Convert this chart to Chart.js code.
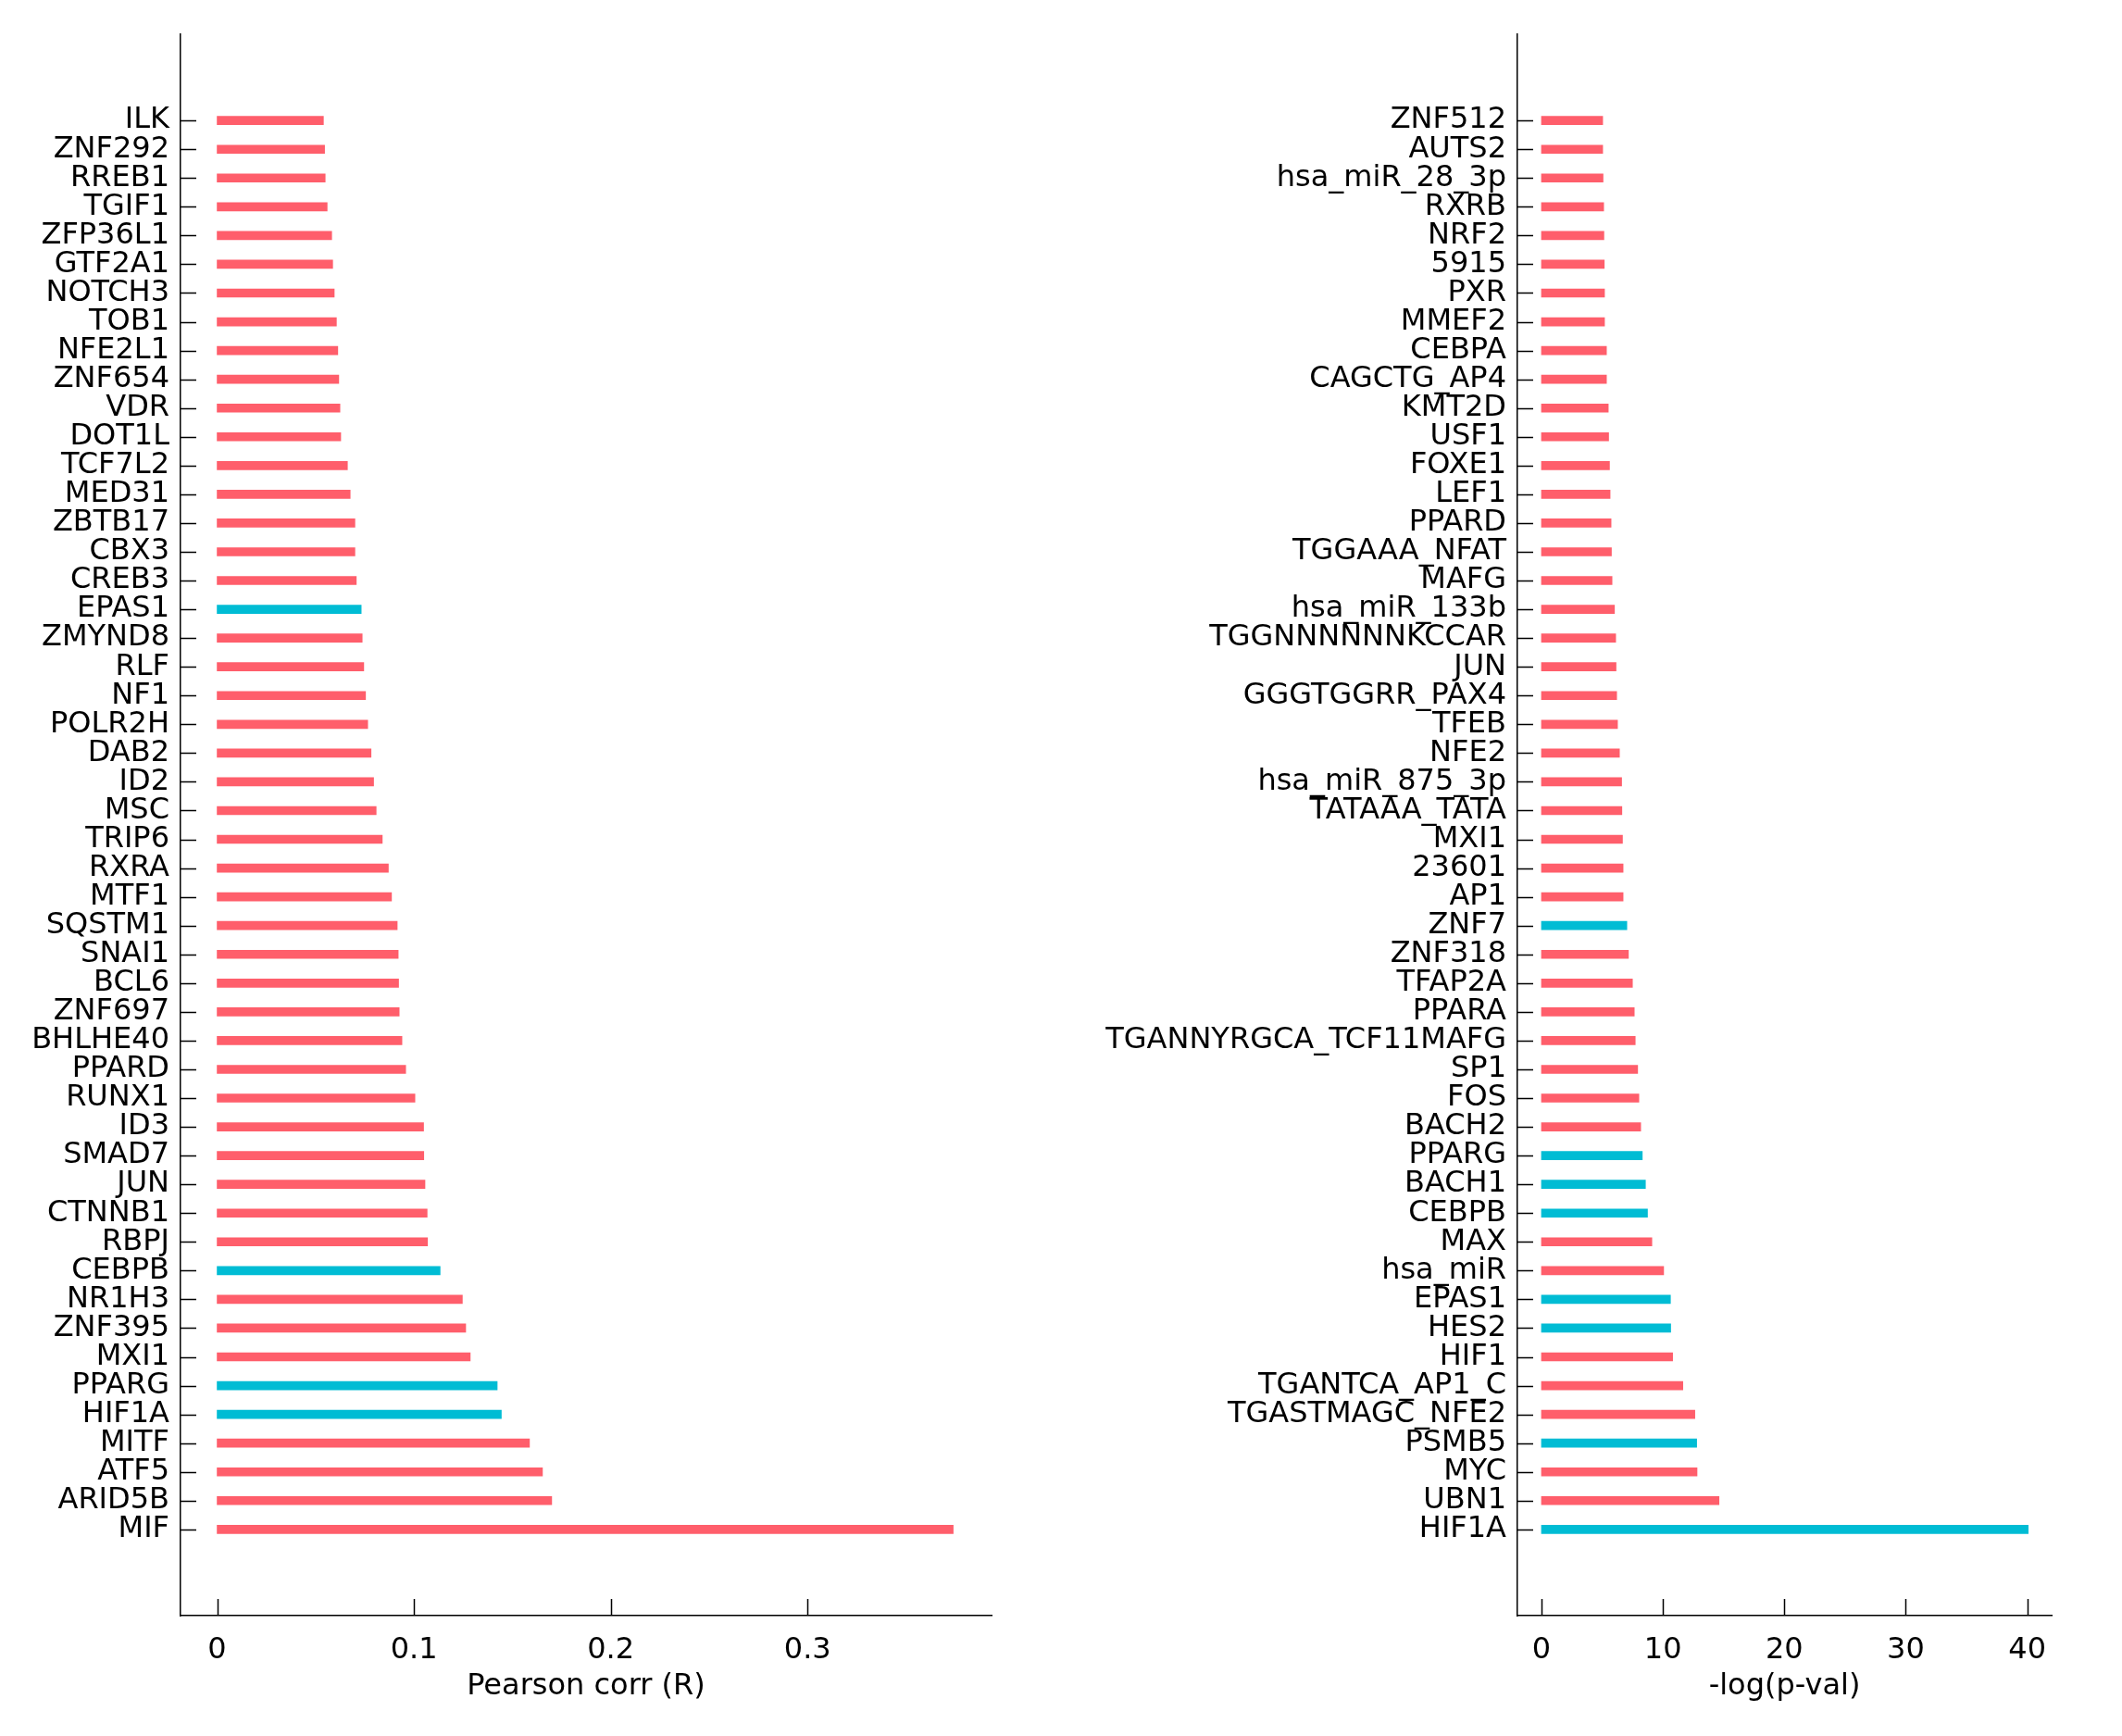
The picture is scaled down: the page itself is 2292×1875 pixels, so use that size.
<!DOCTYPE html>
<html lang="en">
<head>
  <meta charset="UTF-8" />
  <title>Correlation and enrichment bars</title>
  <script src="https://cdn.jsdelivr.net/npm/chart.js"></script>
  <style>
    body {
      margin: 0;
      padding: 0;
      background: #fff;
      width: 2292px;
      height: 1875px;
      position: relative;
      overflow: hidden;
    }
    canvas {
      position: absolute;
      top: 0;
    }
    #corrChart { left: 0; }
    #pvalChart { left: 1100px; }
  </style>
</head>
<body>
  <canvas id="corrChart" width="1100" height="1875"></canvas>
  <canvas id="pvalChart" width="1192" height="1875"></canvas>
  <script>
    // left panel: Pearson correlation, top to bottom
    const corrNames = ['ILK', 'ZNF292', 'RREB1', 'TGIF1', 'ZFP36L1', 'GTF2A1', 'NOTCH3', 'TOB1', 'NFE2L1', 'ZNF654',
      'VDR', 'DOT1L', 'TCF7L2', 'MED31', 'ZBTB17', 'CBX3', 'CREB3', 'EPAS1', 'ZMYND8', 'RLF',
      'NF1', 'POLR2H', 'DAB2', 'ID2', 'MSC', 'TRIP6', 'RXRA', 'MTF1', 'SQSTM1', 'SNAI1',
      'BCL6', 'ZNF697', 'BHLHE40', 'PPARD', 'RUNX1', 'ID3', 'SMAD7', 'JUN', 'CTNNB1', 'RBPJ',
      'CEBPB', 'NR1H3', 'ZNF395', 'MXI1', 'PPARG', 'HIF1A', 'MITF', 'ATF5', 'ARID5B', 'MIF'];
    const corrValues = [0.0540, 0.0546, 0.0549, 0.0559, 0.0582, 0.0587, 0.0595, 0.0606, 0.0613, 0.0618,
      0.0624, 0.0628, 0.0662, 0.0676, 0.0700, 0.0700, 0.0707, 0.0732, 0.0737, 0.0745,
      0.0754, 0.0765, 0.0782, 0.0795, 0.0808, 0.0839, 0.0870, 0.0886, 0.0915, 0.0920,
      0.0922, 0.0925, 0.0939, 0.0958, 0.1005, 0.1049, 0.1050, 0.1056, 0.1067, 0.1069,
      0.1133, 0.1246, 0.1263, 0.1286, 0.1423, 0.1444, 0.1587, 0.1653, 0.1700, 0.3740];
    const corrHighlight = ['EPAS1', 'CEBPB', 'PPARG', 'HIF1A'];
    const corrTicks = [0, 0.1, 0.2, 0.3];

    // right panel: -log(p-val), top to bottom
    const pvalNames = ['ZNF512', 'AUTS2', 'hsa_miR_28_3p', 'RXRB', 'NRF2', '5915', 'PXR', 'MMEF2', 'CEBPA', 'CAGCTG_AP4',
      'KMT2D', 'USF1', 'FOXE1', 'LEF1', 'PPARD', 'TGGAAA_NFAT', 'MAFG', 'hsa_miR_133b', 'TGGNNNNNNKCCAR', 'JUN',
      'GGGTGGRR_PAX4', 'TFEB', 'NFE2', 'hsa_miR_875_3p', 'TATAAA_TATA', 'MXI1', '23601', 'AP1', 'ZNF7', 'ZNF318',
      'TFAP2A', 'PPARA', 'TGANNYRGCA_TCF11MAFG', 'SP1', 'FOS', 'BACH2', 'PPARG', 'BACH1', 'CEBPB', 'MAX',
      'hsa_miR', 'EPAS1', 'HES2', 'HIF1', 'TGANTCA_AP1_C', 'TGASTMAGC_NFE2', 'PSMB5', 'MYC', 'UBN1', 'HIF1A'];
    const pvalValues = [5.04, 5.04, 5.07, 5.12, 5.14, 5.17, 5.19, 5.19, 5.35, 5.35,
      5.50, 5.53, 5.60, 5.65, 5.73, 5.76, 5.81, 6.01, 6.11, 6.14,
      6.19, 6.26, 6.42, 6.60, 6.62, 6.67, 6.72, 6.72, 7.03, 7.16,
      7.49, 7.64, 7.72, 7.92, 8.02, 8.17, 8.30, 8.56, 8.73, 9.09,
      10.06, 10.62, 10.64, 10.80, 11.64, 12.63, 12.78, 12.81, 14.62, 40.08];
    const pvalHighlight = ['ZNF7', 'PPARG', 'BACH1', 'CEBPB', 'EPAS1', 'HES2', 'PSMB5', 'HIF1A'];
    const pvalTicks = [0, 10, 20, 30, 40];

    const RED = '#ff5e6b';
    const CYAN = '#00bcd4';

    Chart.defaults.font.family = "'DejaVu Sans', sans-serif";
    Chart.defaults.font.size = 32;
    Chart.defaults.color = '#000';

    // tick marks pointing into the plot, like the original
    const inwardTicks = {
      id: 'inwardTicks',
      afterDraw(chart) {
        const { ctx, chartArea, scales: { x, y } } = chart;
        ctx.save();
        ctx.strokeStyle = '#000';
        ctx.lineWidth = 1.5;
        ctx.beginPath();
        x.ticks.forEach(t => {
          const px = Math.round(x.getPixelForValue(t.value)) + 0.5;
          ctx.moveTo(px, chartArea.bottom);
          ctx.lineTo(px, chartArea.bottom - 18);
        });
        y.ticks.forEach(t => {
          const py = Math.round(y.getPixelForValue(t.value)) + 0.5;
          ctx.moveTo(chartArea.left, py);
          ctx.lineTo(chartArea.left + 17, py);
        });
        ctx.stroke();
        ctx.restore();
      }
    };

    function drawPanel(id, names, values, highlight, xTicks, xMin, xMax, title, axisWidth, rightPad) {
      return new Chart(document.getElementById(id), {
        type: 'bar',
        data: {
          datasets: [{
            data: values.map((v, i) => ({ x: v, y: i })),
            backgroundColor: names.map(n => highlight.includes(n) ? CYAN : RED),
            barThickness: 9,
            borderWidth: 0
          }]
        },
        options: {
          indexAxis: 'y',
          responsive: false,
          animation: false,
          layout: { padding: { top: 37, left: 0, right: rightPad, bottom: 0 } },
          plugins: { legend: { display: false }, tooltip: { enabled: false } },
          scales: {
            x: {
              type: 'linear',
              min: xMin,
              max: xMax,
              offset: false,
              afterBuildTicks: s => { s.ticks = xTicks.map(v => ({ value: v })); },
              afterFit: s => { s.height = 130; },
              grid: { display: false, drawTicks: false, tickLength: 0 },
              border: { display: true, color: '#000', width: 1.5 },
              ticks: { padding: 18, maxRotation: 0 },
              title: { display: true, text: title, padding: { top: 0, bottom: 34 } }
            },
            y: {
              type: 'linear',
              reverse: true,
              offset: false,
              min: -3,
              max: names.length + 2,
              afterBuildTicks: s => { s.ticks = names.map((_, i) => ({ value: i })); },
              afterFit: s => { s.width = axisWidth; },
              grid: { display: false, offset: false, drawTicks: false, tickLength: 0 },
              border: { display: true, color: '#000', width: 1.5 },
              ticks: {
                autoSkip: false,
                padding: 12,
                font: { lineHeight: 1 },
                callback: v => names[v]
              }
            }
          }
        },
        plugins: [inwardTicks]
      });
    }

    drawPanel('corrChart', corrNames, corrValues, corrHighlight, corrTicks,
      -0.0186, 0.3935, 'Pearson corr (R)', 195, 29);
    drawPanel('pvalChart', pvalNames, pvalValues, pvalHighlight, pvalTicks,
      -1.98, 42.01, '-log(p-val)', 539, 76);
  </script>
</body>
</html>
